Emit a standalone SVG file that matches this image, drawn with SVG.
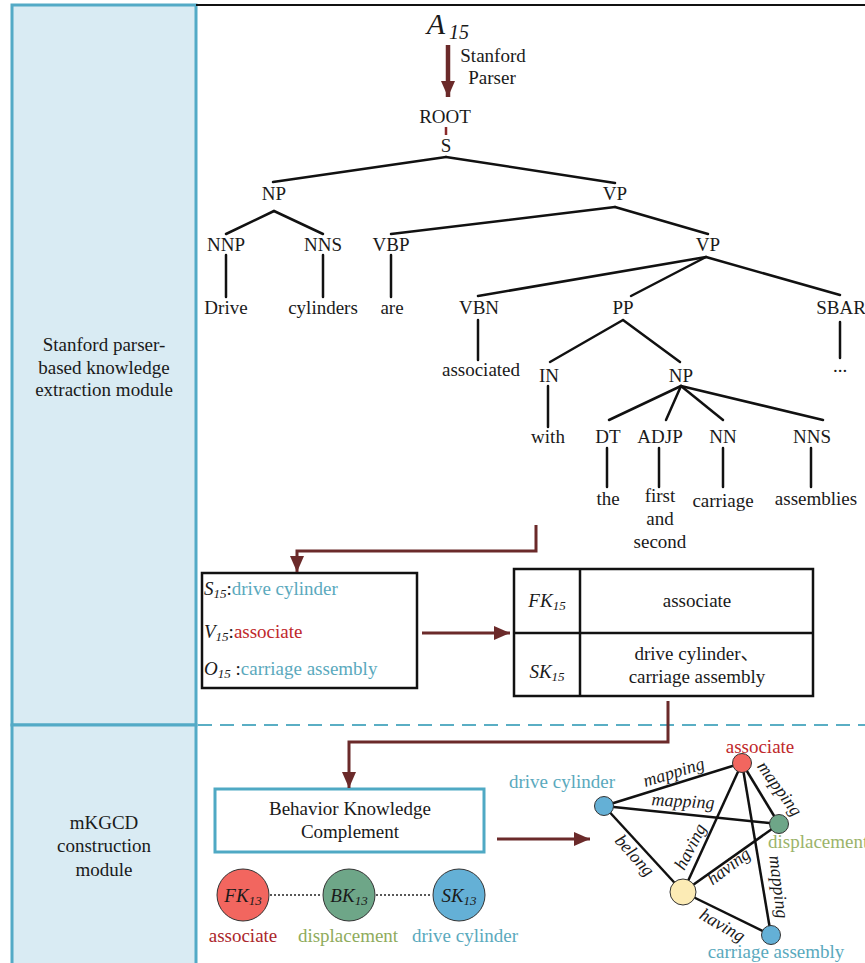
<svg xmlns="http://www.w3.org/2000/svg" width="865" height="963" viewBox="0 0 865 963">
<defs>
<style>
.t{font-family:"Liberation Serif","Times New Roman",serif;font-size:19px;fill:#1a1a1a;text-anchor:middle}
.l{text-anchor:start}
.i{font-style:italic}
.sub{font-size:13px;font-style:italic}
.e{stroke:#111;stroke-width:2.5;fill:none;stroke-linecap:round}
.ar{stroke:#6b2a2a;stroke-width:3;fill:none}
.panel{fill:#d9ebf3;stroke:#53aac6;stroke-width:3}
.teal{fill:#5aa9bd}
.red{fill:#c0282b}
.olive{fill:#8fab5c}
.node{stroke:#333;stroke-width:1}
.ge{stroke:#111;stroke-width:2.5}
.dot{stroke:#222;stroke-width:1.5;stroke-dasharray:2 2}
</style>
<marker id="ah" viewBox="0 0 16 14" refX="16" refY="7" markerWidth="16" markerHeight="14" markerUnits="userSpaceOnUse" orient="auto">
<path d="M0,0 L16,7 L0,14 z" fill="#6b2a2a"/>
</marker>
</defs>

<!-- left panels -->
<g id="panel-extraction">
<rect class="panel" x="12" y="5" width="184" height="720"/>
<text class="t" x="104" y="351">Stanford parser-</text>
<text class="t" x="104" y="374">based knowledge</text>
<text class="t" x="104" y="396">extraction module</text>
</g>
<g id="panel-construction">
<rect class="panel" x="12" y="725" width="184" height="250"/>
<text class="t" x="104" y="829">mKGCD</text>
<text class="t" x="104" y="852">construction</text>
<text class="t" x="104" y="876">module</text>
</g>
<line x1="196" y1="5" x2="865" y2="5" stroke="#111" stroke-width="2"/>
<line x1="198" y1="725" x2="865" y2="725" stroke="#5aaec4" stroke-width="2" stroke-dasharray="14 8"/>

<!-- input -->
<g id="a15">
<text class="t i" x="436" y="34" style="font-size:30px">A</text>
<text class="t i" x="459" y="39" style="font-size:20px">15</text>
</g>
<g id="stanford-parser-label">
<text class="t" x="493" y="62">Stanford</text>
<text class="t" x="492" y="84">Parser</text>
</g>

<!-- tree labels -->
<g id="tree">
<text class="t" x="445" y="123">ROOT</text>
<text class="t" x="446" y="152">S</text>
<text class="t" x="274" y="200">NP</text>
<text class="t" x="615" y="200">VP</text>
<text class="t" x="226" y="251">NNP</text>
<text class="t" x="323" y="251">NNS</text>
<text class="t" x="391" y="251">VBP</text>
<text class="t" x="708" y="251">VP</text>
<text class="t" x="226" y="314">Drive</text>
<text class="t" x="323" y="314">cylinders</text>
<text class="t" x="392" y="314">are</text>
<text class="t" x="479" y="314">VBN</text>
<text class="t" x="623" y="314">PP</text>
<text class="t" x="841" y="314">SBAR</text>
<text class="t" x="481" y="376">associated</text>
<text class="t" x="549" y="382">IN</text>
<text class="t" x="681" y="382">NP</text>
<text class="t" x="840" y="372">...</text>
<text class="t" x="548" y="443">with</text>
<text class="t" x="608" y="443">DT</text>
<text class="t" x="660" y="443">ADJP</text>
<text class="t" x="723" y="443">NN</text>
<text class="t" x="812" y="443">NNS</text>
<text class="t" x="608" y="505">the</text>
<text class="t" x="660" y="502">first</text>
<text class="t" x="660" y="525">and</text>
<text class="t" x="660" y="548">second</text>
<text class="t" x="723" y="507">carriage</text>
<text class="t" x="816" y="505">assemblies</text>
</g>

<!-- S V O box -->
<g id="svo-box">
<rect x="202" y="573" width="215" height="115" fill="#fff" stroke="#111" stroke-width="2.5"/>
<text class="t l" x="204" y="595"><tspan class="i">S</tspan><tspan class="sub" dy="3">15</tspan><tspan dy="-3">:</tspan><tspan class="teal">drive cylinder</tspan></text>
<text class="t l" x="204" y="638"><tspan class="i">V</tspan><tspan class="sub" dy="3">15</tspan><tspan dy="-3">:</tspan><tspan class="red">associate</tspan></text>
<text class="t l" x="204" y="675"><tspan class="i">O</tspan><tspan class="sub" dy="3">15</tspan><tspan dy="-3"> :</tspan><tspan class="teal">carriage assembly</tspan></text>
</g>

<!-- FK SK table -->
<g id="fk-sk-table">
<rect x="514" y="569" width="299" height="127" fill="#fff" stroke="#111" stroke-width="2.5"/>
<line x1="514" y1="633" x2="813" y2="633" stroke="#111" stroke-width="2.5"/>
<line x1="580" y1="569" x2="580" y2="696" stroke="#111" stroke-width="2.5"/>
<text class="t" x="547" y="607"><tspan class="i">FK</tspan><tspan class="sub" dy="3">15</tspan></text>
<text class="t" x="697" y="607">associate</text>
<text class="t" x="547" y="678"><tspan class="i">SK</tspan><tspan class="sub" dy="3">15</tspan></text>
<text class="t" x="697" y="660" style="font-family:'Liberation Serif','Noto Sans CJK SC',serif">drive cylinder、</text>
<text class="t" x="697" y="683">carriage assembly</text>
</g>

<!-- behavior knowledge complement -->
<g id="bkc-box">
<rect x="215" y="789" width="269" height="63" fill="#fff" stroke="#4fa9c4" stroke-width="3"/>
<text class="t" x="350" y="815">Behavior Knowledge</text>
<text class="t" x="350" y="838">Complement</text>
</g>

<g id="fk13">
<circle class="node" cx="243" cy="895" r="26" fill="#f2665f"/>
<text class="t" x="243" y="902"><tspan class="i">FK</tspan><tspan class="sub" dy="3">13</tspan></text>
<text class="t" x="243" y="942" style="fill:#ab262b">associate</text>
</g>
<g id="bk13">
<circle class="node" cx="349" cy="895" r="26" fill="#6ea688"/>
<text class="t" x="349" y="902"><tspan class="i">BK</tspan><tspan class="sub" dy="3">13</tspan></text>
<text class="t olive" x="348" y="942">displacement</text>
</g>
<g id="sk13">
<circle class="node" cx="459" cy="895" r="26" fill="#64b0d6"/>
<text class="t" x="459" y="902"><tspan class="i">SK</tspan><tspan class="sub" dy="3">13</tspan></text>
<text class="t teal" x="465" y="942">drive cylinder</text>
</g>

<!-- knowledge graph -->
<g id="kg-edges">
<line class="ge" x1="604" y1="806" x2="742" y2="763"/>
<line class="ge" x1="604" y1="806" x2="779" y2="824"/>
<line class="ge" x1="604" y1="806" x2="683" y2="892"/>
<line class="ge" x1="742" y1="763" x2="683" y2="892"/>
<line class="ge" x1="742" y1="763" x2="779" y2="824"/>
<line class="ge" x1="742" y1="763" x2="771" y2="935"/>
<line class="ge" x1="683" y1="892" x2="779" y2="824"/>
<line class="ge" x1="683" y1="892" x2="771" y2="935"/>
<g class="t i" style="font-size:18px">
<text transform="translate(674,773) rotate(-17)" y="5">mapping</text>
<text transform="translate(683,802) rotate(3)" y="5">mapping</text>
<text transform="translate(779,789) rotate(54)" y="5">mapping</text>
<text transform="translate(778,887) rotate(83)" y="5">mapping</text>
<text transform="translate(691,847) rotate(-63)" y="5">having</text>
<text transform="translate(634,856) rotate(48)" y="5">belong</text>
<text transform="translate(729,867) rotate(-37)" y="5">having</text>
<text transform="translate(722,926) rotate(30)" y="5">having</text>
</g>
</g>
<g id="kg-drive-cylinder">
<circle class="node" cx="604" cy="806" r="9.5" fill="#64b0d6"/>
<text class="t teal" x="562" y="788">drive cylinder</text>
</g>
<g id="kg-associate">
<circle class="node" cx="742" cy="763" r="9.5" fill="#f2665f"/>
<text class="t red" x="760" y="753">associate</text>
</g>
<g id="kg-displacement">
<circle class="node" cx="779" cy="824" r="9.5" fill="#6ea688"/>
<text class="t l" x="768" y="848" style="fill:#9bb36a">displacement</text>
</g>
<g id="kg-center">
<circle class="node" cx="683" cy="892" r="13" fill="#fcebb5"/>
</g>
<g id="kg-carriage-assembly">
<circle class="node" cx="771" cy="935" r="9.5" fill="#64b0d6"/>
<text class="t teal" x="776" y="958">carriage assembly</text>
</g>

<!-- connectors -->
<g id="connectors">
<g id="tree-edges">
<line class="e" x1="446" y1="157" x2="273" y2="182"/>
<line class="e" x1="446" y1="157" x2="615" y2="183"/>
<line class="e" x1="274" y1="211" x2="226" y2="234"/>
<line class="e" x1="274" y1="211" x2="323" y2="234"/>
<line class="e" x1="615" y1="207" x2="391" y2="234"/>
<line class="e" x1="615" y1="207" x2="708" y2="234"/>
<line class="e" x1="706" y1="257" x2="478" y2="296"/>
<line class="e" x1="706" y1="257" x2="631" y2="296"/>
<line class="e" x1="706" y1="257" x2="840" y2="295"/>
<line class="e" x1="623" y1="320" x2="550" y2="362"/>
<line class="e" x1="623" y1="320" x2="680" y2="362"/>
<line class="e" x1="681" y1="386" x2="609" y2="420"/>
<line class="e" x1="681" y1="386" x2="666" y2="420"/>
<line class="e" x1="681" y1="386" x2="723" y2="420"/>
<line class="e" x1="681" y1="386" x2="823" y2="420"/>
<line class="e" x1="226" y1="255" x2="226" y2="297"/>
<line class="e" x1="323" y1="255" x2="323" y2="297"/>
<line class="e" x1="391" y1="255" x2="391" y2="297"/>
<line class="e" x1="478" y1="320" x2="478" y2="360"/>
<line class="e" x1="548" y1="386" x2="548" y2="427"/>
<line class="e" x1="840" y1="322" x2="840" y2="358"/>
<line class="e" x1="607" y1="448" x2="607" y2="487"/>
<line class="e" x1="659" y1="448" x2="659" y2="487"/>
<line class="e" x1="723" y1="448" x2="723" y2="487"/>
<line class="e" x1="811" y1="448" x2="811" y2="487"/>
</g>
<line x1="446" y1="127" x2="446" y2="135" stroke="#8b2a2a" stroke-width="2.5"/>
<line x1="448" y1="45" x2="448" y2="97" stroke="#6b2a2a" stroke-width="4.5" marker-end="url(#ah)"/>
<path class="ar" d="M536,525 V551 H297 V572" marker-end="url(#ah)"/>
<line class="ar" x1="422" y1="633" x2="510" y2="633" marker-end="url(#ah)"/>
<path class="ar" d="M668,701 V742 H349 V788" marker-end="url(#ah)"/>
<line class="ar" x1="497" y1="839" x2="590" y2="839" marker-end="url(#ah)"/>
<line class="dot" x1="270" y1="895" x2="322" y2="895"/>
<line class="dot" x1="376" y1="895" x2="432" y2="895"/>
</g>
</svg>
